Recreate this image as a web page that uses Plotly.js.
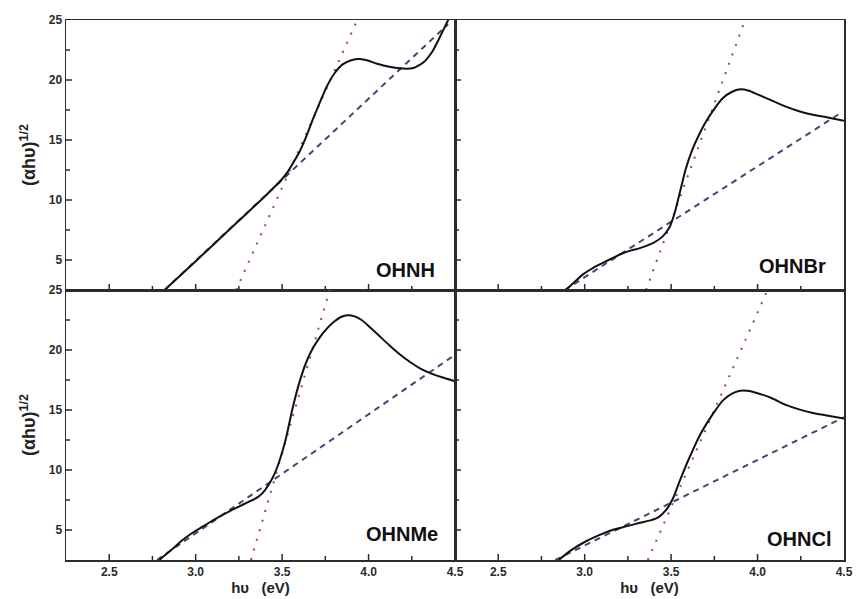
<!DOCTYPE html>
<html>
<head>
<meta charset="utf-8">
<script src="https://cdn.plot.ly/plotly-3.0.1.min.js"></script>
<style>html,body{margin:0;padding:0;background:#fff;}#chart{width:856px;height:599px;}</style>
</head>
<body>
<div id="chart"></div>
<script>
// ---- Data ----
const panelNames = ["OHNH", "OHNBr", "OHNMe", "OHNCl"];

// OHNH (top-left)
const ohnhX = [2.82, 3.0, 3.2, 3.4, 3.45, 3.50, 3.53, 3.56, 3.60, 3.64, 3.68, 3.72, 3.76, 3.80, 3.85, 3.90, 3.95, 4.00, 4.05, 4.12, 4.20, 4.26, 4.32, 4.37, 4.42, 4.46, 4.49];
const ohnhY = [2.5, 4.9, 7.6, 10.3, 11.0, 11.75, 12.3, 13.0, 14.0, 15.3, 16.8, 18.2, 19.5, 20.5, 21.3, 21.65, 21.75, 21.6, 21.35, 21.1, 20.95, 21.0, 21.5, 22.4, 23.8, 25.0, 26.0];
const ohnhFitLowX = [2.82, 4.46];
const ohnhFitLowY = [2.5, 24.65];
const ohnhFitEdgeX = [3.234, 3.93];
const ohnhFitEdgeY = [2.5, 24.85];

// OHNBr (top-right)
const ohnbrX = [2.89, 2.94, 2.99, 3.05, 3.10, 3.16, 3.22, 3.27, 3.315, 3.36, 3.40, 3.45, 3.49, 3.52, 3.55, 3.585, 3.62, 3.66, 3.70, 3.75, 3.80, 3.85, 3.90, 3.95, 4.00, 4.08, 4.16, 4.24, 4.32, 4.40, 4.50];
const ohnbrY = [2.5, 3.15, 3.8, 4.35, 4.72, 5.15, 5.56, 5.8, 5.97, 6.2, 6.45, 6.95, 7.7, 8.9, 10.6, 12.6, 14.1, 15.4, 16.5, 17.6, 18.5, 19.0, 19.22, 19.1, 18.8, 18.3, 17.8, 17.4, 17.1, 16.9, 16.6];
const ohnbrFitLowX = [2.885, 4.47];
const ohnbrFitLowY = [2.5, 17.15];
const ohnbrFitEdgeX = [3.355, 3.92];
const ohnbrFitEdgeY = [2.5, 24.7];

// OHNMe (bottom-left)
const ohnmeX = [2.79, 2.86, 2.924, 2.98, 3.04, 3.10, 3.155, 3.20, 3.25, 3.30, 3.34, 3.37, 3.40, 3.43, 3.46, 3.49, 3.52, 3.56, 3.60, 3.64, 3.68, 3.72, 3.76, 3.80, 3.84, 3.88, 3.92, 3.96, 4.00, 4.06, 4.12, 4.18, 4.24, 4.30, 4.36, 4.42, 4.50];
const ohnmeY = [2.5, 3.35, 4.16, 4.75, 5.28, 5.8, 6.25, 6.6, 6.95, 7.3, 7.58, 7.85, 8.3, 8.95, 9.8, 11.0, 12.5, 15.1, 17.3, 19.0, 20.2, 21.1, 21.8, 22.35, 22.75, 22.9, 22.8, 22.5, 22.0, 21.2, 20.4, 19.65, 19.0, 18.45, 18.05, 17.75, 17.4];
const ohnmeFitLowX = [2.776, 4.49];
const ohnmeFitLowY = [2.5, 19.5];
const ohnmeFitEdgeX = [3.32, 3.775];
const ohnmeFitEdgeY = [2.5, 25.0];

// OHNCl (bottom-right)
const ohnclX = [2.85, 2.92, 3.0, 3.08, 3.16, 3.24, 3.32, 3.38, 3.43, 3.47, 3.51, 3.55, 3.59, 3.63, 3.67, 3.72, 3.76, 3.80, 3.85, 3.90, 3.94, 4.00, 4.08, 4.16, 4.24, 4.32, 4.40, 4.50];
const ohnclY = [2.5, 3.3, 4.0, 4.55, 5.0, 5.3, 5.6, 5.8, 6.1, 6.65, 7.6, 9.1, 10.5, 11.8, 13.0, 14.2, 15.05, 15.8, 16.35, 16.6, 16.6, 16.4, 16.0, 15.45, 15.05, 14.75, 14.55, 14.3];
const ohnclFitLowX = [2.83, 4.5];
const ohnclFitLowY = [2.5, 14.4];
const ohnclFitEdgeX = [3.365, 4.055];
const ohnclFitEdgeY = [2.5, 24.9];

// tick positions
const xMajorTicks = [2.5, 3.0, 3.5, 4.0];
const xMinorTicks = [2.75, 3.25, 3.75, 4.25];
const xTickLabels = ["2.5", "3.0", "3.5", "4.0", "4.5"];
const yMajorTicks = [5, 10, 15, 20];
const yMinorTicks = [7.5, 12.5, 17.5, 22.5];
const yTickLabels = ["5", "10", "15", "20", "25"];

// ---- Styles ----
const curveColor = "#111111";
const dashColor = "#444478";
const dotColor = "#a04848";
const axisColor = "#2b2b2b";
const panelW = 389, panelH = 270;   // approx panel size in px, for tick lengths

const panels = [
  {name: panelNames[0], x: ohnhX, y: ohnhY, lx: ohnhFitLowX, ly: ohnhFitLowY, ex: ohnhFitEdgeX, ey: ohnhFitEdgeY, xa: "x", ya: "y", ax: 0.954, ay: 0.074},
  {name: panelNames[1], x: ohnbrX, y: ohnbrY, lx: ohnbrFitLowX, ly: ohnbrFitLowY, ex: ohnbrFitEdgeX, ey: ohnbrFitEdgeY, xa: "x2", ya: "y2", ax: 0.96, ay: 0.089},
  {name: panelNames[2], x: ohnmeX, y: ohnmeY, lx: ohnmeFitLowX, ly: ohnmeFitLowY, ex: ohnmeFitEdgeX, ey: ohnmeFitEdgeY, xa: "x3", ya: "y3", ax: 0.961, ay: 0.096},
  {name: panelNames[3], x: ohnclX, y: ohnclY, lx: ohnclFitLowX, ly: ohnclFitLowY, ex: ohnclFitEdgeX, ey: ohnclFitEdgeY, xa: "x4", ya: "y4", ax: 0.971, ay: 0.078}
];

const traces = [];
const annotations = [];
const shapes = [];
panels.forEach(p => {
  traces.push({x: p.ex, y: p.ey, xaxis: p.xa, yaxis: p.ya, mode: "lines", name: p.name + " fit (edge)",
    line: {color: dotColor, width: 2, dash: "2px,8px"}, hoverinfo: "skip"});
  traces.push({x: p.lx, y: p.ly, xaxis: p.xa, yaxis: p.ya, mode: "lines", name: p.name + " fit (tail)",
    line: {color: dashColor, width: 2, dash: "6px,5px"}, hoverinfo: "skip"});
  traces.push({x: p.x, y: p.y, xaxis: p.xa, yaxis: p.ya, mode: "lines", name: p.name,
    line: {color: curveColor, width: 2, shape: "spline", smoothing: 0.6}});
  annotations.push({text: p.name, xref: p.xa + " domain", yref: p.ya + " domain", x: p.ax, y: p.ay,
    xanchor: "right", yanchor: "middle", showarrow: false,
    font: {size: 20, color: "#111", weight: "bold", family: "Liberation Sans, Arial, sans-serif"}});
  // inside tick marks on bottom and left axes of every panel
  const addX = (v, len) => shapes.push({type: "line", layer: "above", xref: p.xa, yref: p.ya + " domain",
    x0: v, x1: v, y0: 0, y1: len / panelH, line: {color: axisColor, width: 1.5}});
  const addY = (v, len) => shapes.push({type: "line", layer: "above", xref: p.xa + " domain", yref: p.ya,
    x0: 0, x1: len / panelW, y0: v, y1: v, line: {color: axisColor, width: 1.5}});
  xMajorTicks.forEach(v => addX(v, 6));
  xMinorTicks.forEach(v => addX(v, 4));
  yMajorTicks.forEach(v => addY(v, 6));
  yMinorTicks.forEach(v => addY(v, 4));
});

function xAxis(domain, anchor, showLabels, withTitle) {
  const a = {
    domain: domain, anchor: anchor, range: [2.25, 4.5], tickmode: "array",
    tickvals: xMajorTicks.concat([4.5]), ticktext: xTickLabels,
    showticklabels: showLabels, ticks: "",
    showline: true, linecolor: axisColor, linewidth: 1.5, mirror: true, showgrid: false, zeroline: false
  };
  if (withTitle) a.title = {text: "h\u03C5   (eV)", font: {size: 15, color: "#222"}, standoff: 4};
  return a;
}
function yAxis(domain, anchor, showLabels, withTitle) {
  const a = {
    domain: domain, anchor: anchor, range: [2.5, 25], tickmode: "array",
    tickvals: yMajorTicks.concat([25]), ticktext: yTickLabels,
    showticklabels: showLabels, ticks: "",
    showline: true, linecolor: axisColor, linewidth: 1.5, mirror: true, showgrid: false, zeroline: false
  };
  if (withTitle) a.title = {text: "(\u03B1h\u03C5)<sup>1/2</sup>", font: {size: 18, color: "#222"}, standoff: 8};
  return a;
}

const layout = {
  width: 856, height: 599,
  margin: {l: 66, r: 12, t: 20, b: 39},
  paper_bgcolor: "#ffffff", plot_bgcolor: "#ffffff",
  showlegend: false,
  font: {family: "Liberation Sans, Arial, sans-serif", weight: "bold", color: "#2a2a2a", size: 12},
  xaxis: xAxis([0, 0.5], "y", false, false),
  yaxis: yAxis([0.5, 1], "x", true, true),
  xaxis2: xAxis([0.5, 1], "y2", false, false),
  yaxis2: yAxis([0.5, 1], "x2", false, false),
  xaxis3: xAxis([0, 0.5], "y3", true, true),
  yaxis3: yAxis([0, 0.5], "x3", true, true),
  xaxis4: xAxis([0.5, 1], "y4", true, true),
  yaxis4: yAxis([0, 0.5], "x4", false, false),
  annotations: annotations,
  shapes: shapes
};

Plotly.newPlot("chart", traces, layout, {displayModeBar: false, staticPlot: true});
</script>
</body>
</html>
